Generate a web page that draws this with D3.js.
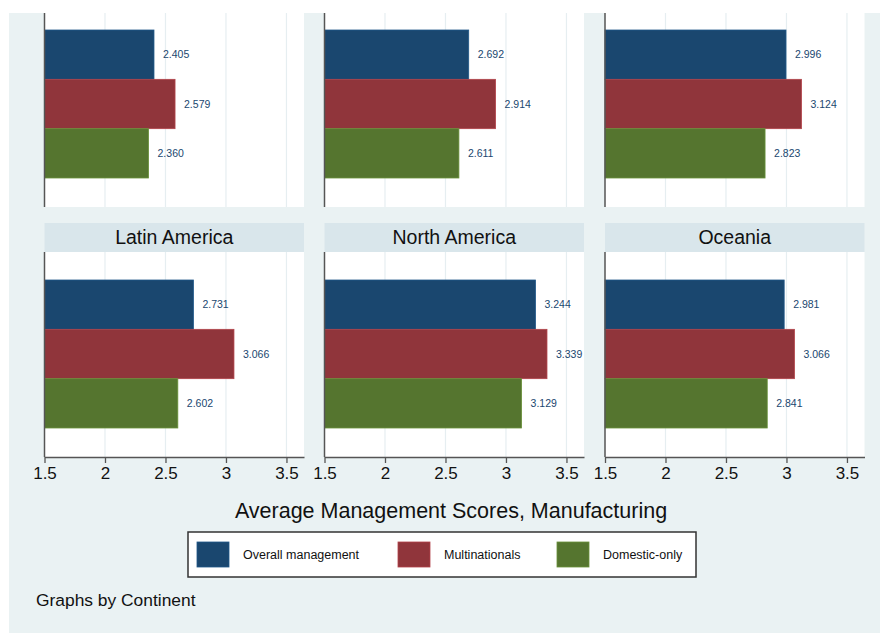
<!DOCTYPE html>
<html><head><meta charset="utf-8">
<script src="https://cdn.jsdelivr.net/npm/d3@7"></script>
<style>body{margin:0;background:#fff}svg{display:block;font-family:"Liberation Sans",Arial,Helvetica,sans-serif}</style>
</head><body>
<svg id="c" width="880" height="633"></svg>
<script>
const continents = ["Africa","Asia","Europe","Latin America","North America","Oceania"];
const seriesNames = ["Overall management","Multinationals","Domestic-only"];
const overall = [2.405, 2.692, 2.996, 2.731, 3.244, 2.981];
const multinationals = [2.579, 2.914, 3.124, 3.066, 3.339, 3.066];
const domestic = [2.360, 2.611, 2.823, 2.602, 3.129, 2.841];
const xTicks = [1.5, 2, 2.5, 3, 3.5];
const colors = ["#1a476f", "#90353b", "#55752f"];
const showTitle = [false, false, false, true, true, true];

const svg = d3.select("#c");
svg.append("rect").attr("x", 9).attr("y", 13).attr("width", 871).attr("height", 620).attr("fill", "#eaf2f3");

const panelX = [44.5, 324.5, 605];
const panelW = 259.5;
const rowY = [2, 252];
const panelH = 205;
svg.append("defs").append("clipPath").attr("id", "vis")
  .append("rect").attr("x", 0).attr("y", 13).attr("width", 880).attr("height", 620);

const root = svg.append("g").attr("clip-path", "url(#vis)");

continents.forEach((name, i) => {
  const col = i % 3, row = Math.floor(i / 3);
  const x0 = panelX[col], y0 = rowY[row];
  const g = root.append("g").attr("transform", `translate(${x0},${y0})`);
  const x = d3.scaleLinear().domain([1.5, 3.645]).range([0, panelW]);
  const y = d3.scaleBand().domain(seriesNames).range([28, panelH - 29]).padding(0);
  const vals = [overall[i], multinationals[i], domestic[i]];

  g.append("rect").attr("width", panelW).attr("height", panelH).attr("fill", "#fff");
  g.selectAll(".grid").data(xTicks.slice(1)).join("line")
    .attr("x1", d => x(d)).attr("x2", d => x(d)).attr("y1", 0).attr("y2", panelH)
    .attr("stroke", "#e6eef1").attr("stroke-width", 1.2);

  if (showTitle[i]) {
    svg.append("rect").attr("x", x0).attr("y", y0 - 29).attr("width", panelW).attr("height", 29).attr("fill", "#d9e6eb");
    svg.append("text").attr("x", x0 + panelW / 2).attr("y", y0 - 8).attr("text-anchor", "middle")
      .attr("font-size", 19.5).attr("fill", "#111").text(name);
  }

  g.selectAll(".bar").data(vals).join("rect")
    .attr("x", x(1.5)).attr("y", (d, k) => y(seriesNames[k]))
    .attr("width", d => x(d) - x(1.5)).attr("height", y.bandwidth())
    .attr("fill", (d, k) => colors[k])
    .attr("stroke", (d, k) => d3.color(colors[k]).brighter(0.6)).attr("stroke-width", 0.8);

  g.selectAll(".lbl").data(vals).join("text")
    .attr("x", d => x(d) + 9).attr("y", (d, k) => y(seriesNames[k]) + y.bandwidth() / 2 + 3.5)
    .attr("font-size", 10.5).attr("fill", "#1a476f").text(d => d.toFixed(3));

  g.append("line").attr("x1", 0).attr("x2", 0).attr("y1", 0).attr("y2", panelH)
    .attr("stroke", "#555").attr("stroke-width", 1.5);

  if (row === 1) {
    const ax = g.append("g").attr("transform", `translate(0,${panelH})`)
      .call(d3.axisBottom(x).tickValues(xTicks).tickSize(6).tickSizeOuter(0).tickPadding(4).tickFormat(d3.format("")));
    ax.select(".domain").attr("stroke", "#555").attr("stroke-width", 1.5);
    ax.selectAll(".tick line").attr("stroke", "#555").attr("stroke-width", 1.3);
    ax.selectAll(".tick text").attr("font-size", 17).attr("fill", "#111")
      .attr("font-family", '"Liberation Sans",Arial,sans-serif');
  }
});

svg.append("text").attr("x", 451).attr("y", 518).attr("text-anchor", "middle")
  .attr("font-size", 21.5).attr("fill", "#111").text("Average Management Scores, Manufacturing");

const leg = svg.append("g");
leg.append("rect").attr("x", 188).attr("y", 532).attr("width", 508).attr("height", 45)
  .attr("fill", "#fff").attr("stroke", "#333").attr("stroke-width", 1.5);
const legX = [197, 398, 557];
seriesNames.forEach((s, k) => {
  leg.append("rect").attr("x", legX[k]).attr("y", 542).attr("width", 32).attr("height", 25)
    .attr("fill", colors[k]).attr("stroke", d3.color(colors[k]).brighter(0.6)).attr("stroke-width", 0.8);
  leg.append("text").attr("x", legX[k] + 46).attr("y", 559).attr("font-size", 12.5).attr("fill", "#111").text(s);
});

svg.append("text").attr("x", 36).attr("y", 606).attr("font-size", 17.4).attr("fill", "#111").text("Graphs by Continent");
</script>
</body></html>
